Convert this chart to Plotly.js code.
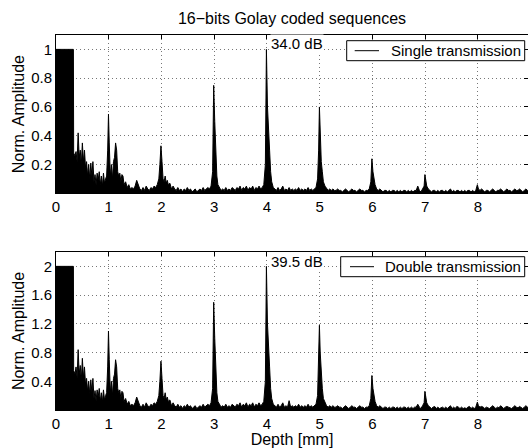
<!DOCTYPE html>
<html><head><meta charset="utf-8">
<script src="https://cdn.plot.ly/plotly-3.0.1.min.js"></script>
<style>html,body{margin:0;padding:0;background:#fff}#chart{width:528px;height:448px}</style>
</head><body><div id="chart"></div>
<script>
// Depth positions (mm)
const depth = [
  0, 0.33, 0.335, 0.36, 0.38, 0.40, 0.42, 0.44, 0.46, 0.48, 0.50, 0.52, 0.54, 0.56, 0.58, 0.60, 0.62, 0.64, 0.66, 0.68, 0.70, 0.72, 0.74, 0.76, 0.78, 0.80, 0.82, 0.84, 0.86, 0.88, 0.90, 0.92, 0.94, 0.96,
  0.98, 0.995, 1.01, 1.03, 1.05, 1.07, 1.09, 1.11, 1.13, 1.15, 1.17, 1.19, 1.21, 1.23, 1.25, 1.27, 1.29,
  1.32, 1.35, 1.38, 1.41, 1.44, 1.47, 1.50, 1.53, 1.56, 1.59, 1.62, 1.65, 1.68, 1.71, 1.74, 1.77, 1.80, 1.83, 1.86, 1.89, 1.92,
  1.95, 1.97, 1.99, 2.01, 2.03, 2.05, 2.07, 2.09, 2.11, 2.13,
  2.16, 2.19, 2.22, 2.25, 2.28, 2.31, 2.34, 2.37, 2.40, 2.43, 2.46, 2.49, 2.52, 2.55, 2.58, 2.61, 2.64, 2.67, 2.70, 2.73, 2.76, 2.79, 2.82, 2.85, 2.88, 2.91, 2.94,
  2.97, 2.99, 3.01, 3.03, 3.05, 3.07,
  3.10, 3.13, 3.16, 3.19, 3.22, 3.25, 3.28, 3.31, 3.34, 3.37, 3.40, 3.43, 3.46, 3.49, 3.52, 3.55, 3.58, 3.61, 3.64, 3.67, 3.70, 3.73, 3.76, 3.79, 3.82, 3.85, 3.88, 3.91, 3.94,
  3.97, 3.99, 4.01, 4.03, 4.05, 4.07, 4.09,
  4.12, 4.15, 4.18, 4.21, 4.24, 4.27, 4.30, 4.33, 4.36, 4.39, 4.42, 4.45, 4.48, 4.51, 4.54, 4.57, 4.60, 4.63, 4.66, 4.69, 4.72, 4.75, 4.78, 4.81, 4.84, 4.87, 4.90, 4.93,
  4.96, 4.98, 4.995, 5.01, 5.03, 5.05, 5.07,
  5.10, 5.13, 5.16, 5.19, 5.22, 5.25, 5.28, 5.31, 5.34, 5.37, 5.40, 5.43, 5.46, 5.49, 5.52, 5.55, 5.58, 5.61, 5.64, 5.67, 5.70, 5.73, 5.76, 5.79, 5.82, 5.85, 5.88, 5.91, 5.94,
  5.97, 5.99, 6.01, 6.03, 6.05,
  6.08, 6.11, 6.14, 6.17, 6.20, 6.23, 6.26, 6.29, 6.32, 6.35, 6.38, 6.41, 6.44, 6.47, 6.50, 6.53, 6.56, 6.59, 6.62, 6.65, 6.68, 6.71, 6.74, 6.77, 6.80, 6.83, 6.86, 6.89, 6.92, 6.95,
  6.98, 6.995, 7.01, 7.03,
  7.06, 7.09, 7.12, 7.15, 7.18, 7.21, 7.24, 7.27, 7.30, 7.33, 7.36, 7.39, 7.42, 7.45, 7.48, 7.51, 7.54, 7.57, 7.60, 7.63, 7.66, 7.69, 7.72, 7.75, 7.78, 7.81, 7.84, 7.87, 7.90, 7.93, 7.96,
  7.99, 8.01,
  8.04, 8.07, 8.10, 8.13, 8.16, 8.19, 8.22, 8.25, 8.28, 8.31, 8.34, 8.37, 8.40, 8.43, 8.46, 8.49, 8.52, 8.55, 8.58, 8.61, 8.64, 8.67, 8.70, 8.73, 8.76, 8.79, 8.82, 8.85, 8.88, 8.91, 8.94, 8.97, 9.00
];

// Single transmission, normalised amplitude
const singleAmp = [
  1.0, 1.0, 0.28, 0.26, 0.29, 0.22, 0.42, 0.25, 0.30, 0.20, 0.35, 0.22, 0.30, 0.18, 0.22, 0.12, 0.20, 0.10, 0.21, 0.12, 0.22, 0.08, 0.13, 0.06, 0.14, 0.09, 0.15, 0.06, 0.12, 0.05, 0.14, 0.07, 0.10, 0.12,
  0.30, 0.55, 0.35, 0.12, 0.20, 0.10, 0.22, 0.25, 0.35, 0.30, 0.15, 0.12, 0.14, 0.08, 0.13, 0.12, 0.06,
  0.08, 0.04, 0.06, 0.03, 0.04, 0.03, 0.05, 0.09, 0.06, 0.03, 0.02, 0.04, 0.02, 0.05, 0.03, 0.02, 0.04, 0.03, 0.05, 0.04, 0.06,
  0.10, 0.20, 0.33, 0.22, 0.10, 0.08, 0.12, 0.07, 0.09, 0.06,
  0.07, 0.03, 0.05, 0.03, 0.02, 0.04, 0.02, 0.03, 0.01, 0.03, 0.02, 0.04, 0.02, 0.03, 0.01, 0.02, 0.03, 0.01, 0.02, 0.03, 0.02, 0.04, 0.02, 0.03, 0.04, 0.03, 0.05,
  0.15, 0.75, 0.50, 0.25, 0.12, 0.06,
  0.04, 0.02, 0.03, 0.02, 0.04, 0.02, 0.03, 0.02, 0.04, 0.03, 0.02, 0.04, 0.03, 0.05, 0.02, 0.04, 0.03, 0.05, 0.02, 0.04, 0.03, 0.05, 0.02, 0.04, 0.03, 0.05, 0.03, 0.04, 0.06,
  0.20, 1.00, 0.60, 0.40, 0.30, 0.15, 0.08,
  0.04, 0.03, 0.02, 0.04, 0.02, 0.03, 0.05, 0.02, 0.03, 0.02, 0.04, 0.02, 0.03, 0.02, 0.03, 0.02, 0.04, 0.02, 0.03, 0.02, 0.03, 0.02, 0.04, 0.02, 0.03, 0.02, 0.03, 0.04,
  0.10, 0.30, 0.60, 0.40, 0.22, 0.15, 0.08,
  0.05, 0.03, 0.02, 0.03, 0.02, 0.03, 0.02, 0.02, 0.03, 0.02, 0.02, 0.01, 0.02, 0.03, 0.02, 0.01, 0.02, 0.03, 0.02, 0.02, 0.01, 0.02, 0.03, 0.02, 0.02, 0.01, 0.02, 0.02, 0.03,
  0.08, 0.24, 0.15, 0.10, 0.06,
  0.03, 0.02, 0.03, 0.02, 0.01, 0.02, 0.02, 0.01, 0.02, 0.01, 0.02, 0.02, 0.01, 0.02, 0.01, 0.02, 0.01, 0.02, 0.02, 0.01, 0.02, 0.01, 0.02, 0.01, 0.02, 0.02, 0.05, 0.02, 0.01, 0.03,
  0.05, 0.13, 0.08, 0.05,
  0.03, 0.02, 0.01, 0.02, 0.02, 0.01, 0.02, 0.01, 0.02, 0.02, 0.01, 0.02, 0.01, 0.02, 0.03, 0.01, 0.02, 0.01, 0.02, 0.02, 0.01, 0.02, 0.01, 0.02, 0.01, 0.02, 0.02, 0.01, 0.02, 0.01, 0.02,
  0.06, 0.03,
  0.02, 0.03, 0.02, 0.01, 0.02, 0.02, 0.01, 0.02, 0.03, 0.02, 0.01, 0.02, 0.02, 0.03, 0.02, 0.01, 0.02, 0.03, 0.02, 0.02, 0.01, 0.02, 0.03, 0.02, 0.02, 0.03, 0.02, 0.01, 0.02, 0.03, 0.02, 0.02, 0.01
];

// Double transmission, normalised amplitude
const doubleAmp = [
  2.0, 2.0, 0.55, 0.50, 0.60, 0.45, 0.84, 0.50, 0.62, 0.42, 0.72, 0.45, 0.60, 0.36, 0.44, 0.26, 0.40, 0.22, 0.42, 0.25, 0.44, 0.16, 0.27, 0.13, 0.28, 0.18, 0.30, 0.12, 0.24, 0.11, 0.28, 0.14, 0.20, 0.24,
  0.60, 1.10, 0.70, 0.24, 0.40, 0.20, 0.44, 0.50, 0.70, 0.60, 0.30, 0.24, 0.28, 0.16, 0.26, 0.24, 0.12,
  0.16, 0.08, 0.12, 0.06, 0.08, 0.06, 0.10, 0.18, 0.12, 0.06, 0.04, 0.08, 0.04, 0.10, 0.06, 0.04, 0.08, 0.06, 0.10, 0.08, 0.12,
  0.20, 0.40, 0.68, 0.44, 0.20, 0.16, 0.24, 0.14, 0.18, 0.12,
  0.14, 0.06, 0.10, 0.06, 0.04, 0.08, 0.04, 0.06, 0.02, 0.06, 0.04, 0.08, 0.04, 0.06, 0.02, 0.04, 0.06, 0.02, 0.04, 0.06, 0.04, 0.08, 0.04, 0.06, 0.08, 0.06, 0.10,
  0.30, 1.50, 1.00, 0.50, 0.24, 0.12,
  0.08, 0.04, 0.06, 0.04, 0.08, 0.04, 0.06, 0.04, 0.08, 0.06, 0.04, 0.08, 0.06, 0.10, 0.04, 0.08, 0.06, 0.10, 0.04, 0.08, 0.06, 0.10, 0.04, 0.08, 0.06, 0.10, 0.06, 0.08, 0.12,
  0.40, 2.00, 1.20, 0.80, 0.60, 0.30, 0.16,
  0.08, 0.06, 0.04, 0.08, 0.04, 0.06, 0.10, 0.04, 0.06, 0.04, 0.13, 0.04, 0.06, 0.04, 0.06, 0.04, 0.08, 0.04, 0.06, 0.04, 0.06, 0.04, 0.08, 0.04, 0.06, 0.04, 0.06, 0.08,
  0.20, 0.60, 1.18, 0.80, 0.44, 0.30, 0.16,
  0.10, 0.06, 0.04, 0.06, 0.04, 0.06, 0.04, 0.04, 0.06, 0.04, 0.04, 0.02, 0.04, 0.06, 0.04, 0.02, 0.04, 0.06, 0.04, 0.04, 0.02, 0.04, 0.06, 0.04, 0.04, 0.02, 0.04, 0.04, 0.06,
  0.16, 0.48, 0.30, 0.20, 0.12,
  0.06, 0.04, 0.06, 0.04, 0.02, 0.04, 0.04, 0.02, 0.04, 0.02, 0.04, 0.04, 0.02, 0.04, 0.02, 0.04, 0.02, 0.04, 0.04, 0.02, 0.04, 0.02, 0.04, 0.02, 0.04, 0.04, 0.08, 0.04, 0.02, 0.06,
  0.10, 0.26, 0.16, 0.10,
  0.06, 0.04, 0.02, 0.04, 0.05, 0.02, 0.04, 0.02, 0.03, 0.04, 0.02, 0.04, 0.02, 0.04, 0.06, 0.02, 0.04, 0.02, 0.05, 0.04, 0.02, 0.04, 0.02, 0.03, 0.02, 0.04, 0.05, 0.02, 0.04, 0.02, 0.04,
  0.11, 0.06,
  0.04, 0.05, 0.04, 0.02, 0.04, 0.03, 0.02, 0.04, 0.06, 0.04, 0.02, 0.04, 0.03, 0.06, 0.04, 0.02, 0.04, 0.05, 0.04, 0.03, 0.02, 0.04, 0.06, 0.04, 0.03, 0.05, 0.04, 0.02, 0.04, 0.06, 0.04, 0.03, 0.02
];

const xTicks = [0, 1, 2, 3, 4, 5, 6, 7, 8];
const yTicksTop = [0.2, 0.4, 0.6, 0.8, 1];
const yTicksBottom = [0.4, 0.8, 1.2, 1.6, 2];
const seriesNames = ['Single transmission', 'Double transmission'];
const gainLabels = ['34.0 dB', '39.5 dB'];

const W = 528, H = 448, L = 56, R = 0, T = 35, B = 38;
const px2x = px => (px - L) / (W - L - R);
const py2y = py => (H - B - py) / (H - T - B);

const FONT = 'Liberation Sans, Arial, Helvetica, sans-serif';

const axisCommon = {
  showline: true, linecolor: '#000', linewidth: 1, mirror: 'ticks',
  ticks: 'inside', ticklen: 4, tickcolor: '#000', tickwidth: 1,
  showgrid: true, gridcolor: '#777', griddash: '1px,3px', gridwidth: 1,
  zeroline: false, tickfont: {family: FONT, size: 15, color: '#000'},
  fixedrange: true
};

const traces = [
  {x: depth, y: singleAmp, xaxis: 'x', yaxis: 'y', type: 'scatter', mode: 'lines',
   fill: 'tozeroy', fillcolor: '#000', line: {color: '#000', width: 1}, name: seriesNames[0], showlegend: false},
  {x: depth, y: doubleAmp, xaxis: 'x2', yaxis: 'y2', type: 'scatter', mode: 'lines',
   fill: 'tozeroy', fillcolor: '#000', line: {color: '#000', width: 1}, name: seriesNames[1], showlegend: false}
];

const topDom = [py2y(193.3), 1];
const botDom = [0, py2y(252)];

const legendBoxes = [
  {x0: 346.7, x1: 524.7, y0: 40.7, y1: 60.7, lx0: 354.7, lx1: 379, tx: 389},
  {x0: 340.7, x1: 524.7, y0: 256.7, y1: 276.7, lx0: 350, lx1: 374, tx: 383.3}
];

const shapes = [];
const annotations = [];
legendBoxes.forEach((b, i) => {
  shapes.push({type: 'rect', xref: 'paper', yref: 'paper', layer: 'above',
    x0: px2x(b.x0), x1: px2x(b.x1), y0: py2y(b.y1), y1: py2y(b.y0),
    fillcolor: '#fff', line: {color: '#000', width: 1}});
  const cy = (b.y0 + b.y1) / 2;
  shapes.push({type: 'line', xref: 'paper', yref: 'paper', layer: 'above',
    x0: px2x(b.lx0), x1: px2x(b.lx1), y0: py2y(cy), y1: py2y(cy),
    line: {color: '#000', width: 1}});
  annotations.push({xref: 'paper', yref: 'paper', x: px2x(b.tx), y: py2y(cy),
    xanchor: 'left', yanchor: 'middle', showarrow: false, text: seriesNames[i],
    font: {family: FONT, size: 15, color: '#000'}});
});

annotations.push({xref: 'x', yref: 'y', x: 4.06, y: 1.04, xanchor: 'left', yanchor: 'middle',
  showarrow: false, text: gainLabels[0], bgcolor: '#fff', borderpad: 0,
  font: {family: FONT, size: 15, color: '#000'}});
annotations.push({xref: 'x2', yref: 'y2', x: 4.06, y: 2.07, xanchor: 'left', yanchor: 'middle',
  showarrow: false, text: gainLabels[1], bgcolor: '#fff', borderpad: 0,
  font: {family: FONT, size: 15, color: '#000'}});

const layout = {
  width: W, height: H,
  margin: {l: L, r: R, t: T, b: B, pad: 0},
  paper_bgcolor: '#fff', plot_bgcolor: '#fff',
  font: {family: FONT, size: 15, color: '#000'},
  showlegend: false,
  title: {text: '16\u2212bits Golay coded sequences', font: {family: FONT, size: 16, color: '#000'},
    x: 0.5, xref: 'paper', xanchor: 'center', y: 1 - 18 / H, yref: 'container', yanchor: 'middle'},
  xaxis: Object.assign({}, axisCommon, {domain: [0, 1], anchor: 'y', range: [0, 8.95], tickvals: xTicks}),
  yaxis: Object.assign({}, axisCommon, {domain: topDom, anchor: 'x', range: [0, 1.1], tickvals: yTicksTop,
    title: {text: 'Norm. Amplitude', font: {family: FONT, size: 16, color: '#000'}, standoff: 2}}),
  xaxis2: Object.assign({}, axisCommon, {domain: [0, 1], anchor: 'y2', range: [0, 8.95], tickvals: xTicks,
    title: {text: 'Depth [mm]', font: {family: FONT, size: 16, color: '#000'}, standoff: 2}}),
  yaxis2: Object.assign({}, axisCommon, {domain: botDom, anchor: 'x2', range: [0, 2.2], tickvals: yTicksBottom,
    title: {text: 'Norm. Amplitude', font: {family: FONT, size: 16, color: '#000'}, standoff: 2}}),
  shapes: shapes,
  annotations: annotations
};

Plotly.newPlot('chart', traces, layout, {staticPlot: true, displayModeBar: false});
</script>
</body></html>
